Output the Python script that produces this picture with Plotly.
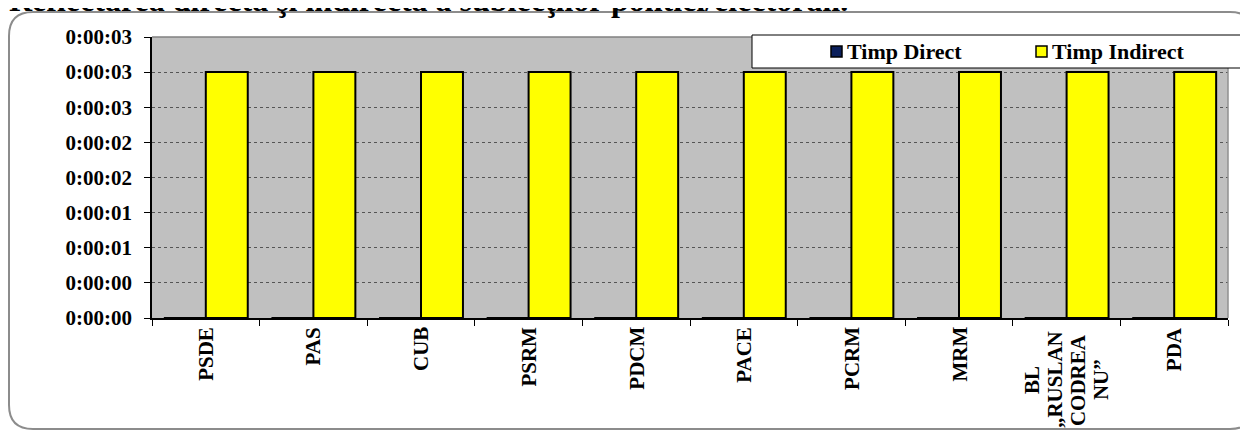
import plotly.graph_objects as go

# ---- data ----
categories = ["PSDE", "PAS", "CUB", "PSRM", "PDCM", "PACE", "PCRM", "MRM",
              "BL<br>„RUSLAN<br>CODREA<br>NU”", "PDA"]
timp_direct = [0, 0, 0, 0, 0, 0, 0, 0, 0, 0]          # seconds
timp_indirect = [3, 3, 3, 3, 3, 3, 3, 3, 3, 3]        # seconds
series_names = ["Timp Direct", "Timp Indirect"]
tick_step = 3 / 7
tick_values = [i * tick_step for i in range(9)]
tick_labels = ["0:00:00", "0:00:00", "0:00:01", "0:00:01", "0:00:02",
               "0:00:02", "0:00:03", "0:00:03", "0:00:03"]
title_text = "Reflectarea directă şi indirectă a subiecţilor politici/electorali."

# ---- layout geometry (page pixels; page body has an 8px margin) ----
W, H = 1248, 432
OFF = 8
L, R, T, B = 152, 1228, 37, 318      # plot area in page pixels
FONT = "Liberation Serif"
col_direct = "#0B1F5B"
col_indirect = "#FFFF00"


def px(x):
    return (x - L) / (R - L)


def py(y):
    return (B - y) / (B - T)


fig = go.Figure()
fig.add_bar(x=categories, y=timp_direct, name=series_names[0],
            marker=dict(color=col_direct, line=dict(color="black", width=2)),
            showlegend=False)
fig.add_bar(x=categories, y=timp_indirect, name=series_names[1],
            marker=dict(color=col_indirect, line=dict(color="black", width=2)),
            showlegend=False)

shapes = []
# rounded outer frame
fx0, fy0, fx1, fy1, r = 9, 12, 1254, 429, 24
path = (f"M {px(fx0)},{py(fy0 + r)} "
        f"Q {px(fx0)},{py(fy0)} {px(fx0 + r)},{py(fy0)} "
        f"L {px(fx1 - r)},{py(fy0)} "
        f"Q {px(fx1)},{py(fy0)} {px(fx1)},{py(fy0 + r)} "
        f"L {px(fx1)},{py(fy1 - r)} "
        f"Q {px(fx1)},{py(fy1)} {px(fx1 - r)},{py(fy1)} "
        f"L {px(fx0 + r)},{py(fy1)} "
        f"Q {px(fx0)},{py(fy1)} {px(fx0)},{py(fy1 - r)} Z")
shapes.append(dict(type="path", xref="paper", yref="paper", path=path,
                   line=dict(color="#8C8C8C", width=2), layer="below"))
# plot top / right border (gray)
shapes.append(dict(type="line", xref="x domain", yref="y domain", x0=0, x1=1, y0=1, y1=1,
                   line=dict(color="#808080", width=1.5), layer="above"))
shapes.append(dict(type="line", xref="x domain", yref="y domain", x0=1, x1=1, y0=0, y1=1,
                   line=dict(color="#909090", width=1.5), layer="above"))
# legend box
shapes.append(dict(type="rect", xref="paper", yref="paper",
                   x0=px(752), x1=px(1262), y0=py(68), y1=py(35),
                   fillcolor="white", line=dict(color="black", width=1), layer="above"))
annotations = []
legend_items = [(831, 845, series_names[0], col_direct),
                (1036, 1050, series_names[1], col_indirect)]
for mx, tx, name, col in legend_items:
    shapes.append(dict(type="rect", xref="paper", yref="paper",
                       x0=px(mx), x1=px(mx + 11), y0=py(57), y1=py(46),
                       fillcolor=col, line=dict(color="black", width=1.5), layer="above"))
    annotations.append(dict(xref="paper", yref="paper", x=px(tx), y=py(51.5),
                            xanchor="left", yanchor="middle", showarrow=False,
                            text=f"<b>{name}</b>",
                            font=dict(family=FONT, size=22, color="black")))

# title (mostly cut off at the top, as in the reference)
annotations.append(dict(xref="paper", yref="paper", x=px(8), y=py(19),
                        xanchor="left", yanchor="bottom", showarrow=False,
                        text=f"<b>{title_text}</b>", borderpad=0,
                        font=dict(family=FONT, size=32, color="black")))

# category labels, rotated; multi-line labels get one centred column per line
LINE_STEP = 23
for c in categories:
    lines = c.split("<br>")
    n = len(lines)
    for i, line in enumerate(lines):
        ann = dict(xref="x", yref="paper", x=c, xshift=(i - (n - 1) / 2) * LINE_STEP,
                   xanchor="center", showarrow=False, textangle=-90, borderpad=0,
                   text=f"<b>{line}</b>",
                   font=dict(family=FONT, size=21, color="black"))
        if n == 1:
            ann.update(y=py(326), yanchor="top")
        else:
            ann.update(y=py(380), yanchor="middle")
        annotations.append(ann)

fig.update_layout(
    width=W, height=H,
    margin=dict(l=L - OFF, r=W + OFF - R, t=T - OFF, b=H + OFF - B, pad=0),
    paper_bgcolor="white", plot_bgcolor="#C0C0C0",
    barmode="group", bargap=0.22, bargroupgap=0,
    showlegend=False,
    shapes=shapes, annotations=annotations,
    font=dict(family=FONT, color="black"),
)
fig.update_xaxes(showline=True, linecolor="black", linewidth=1.5,
                 ticks="outside", ticklen=6, tickcolor="black", tickwidth=1,
                 tickson="boundaries", showticklabels=False, showgrid=False)
fig.update_yaxes(range=[0, 8 * tick_step], tickvals=tick_values, ticktext=tick_labels,
                 showline=True, linecolor="black", linewidth=1.5,
                 ticks="outside", ticklen=6, tickcolor="black", tickwidth=1,
                 showgrid=True, gridcolor="#555555", gridwidth=1, griddash="dot",
                 zeroline=False, ticklabelstandoff=8,
                 tickfont=dict(family=FONT, size=21, color="black", weight="bold"))

fig.write_html("out.html")
